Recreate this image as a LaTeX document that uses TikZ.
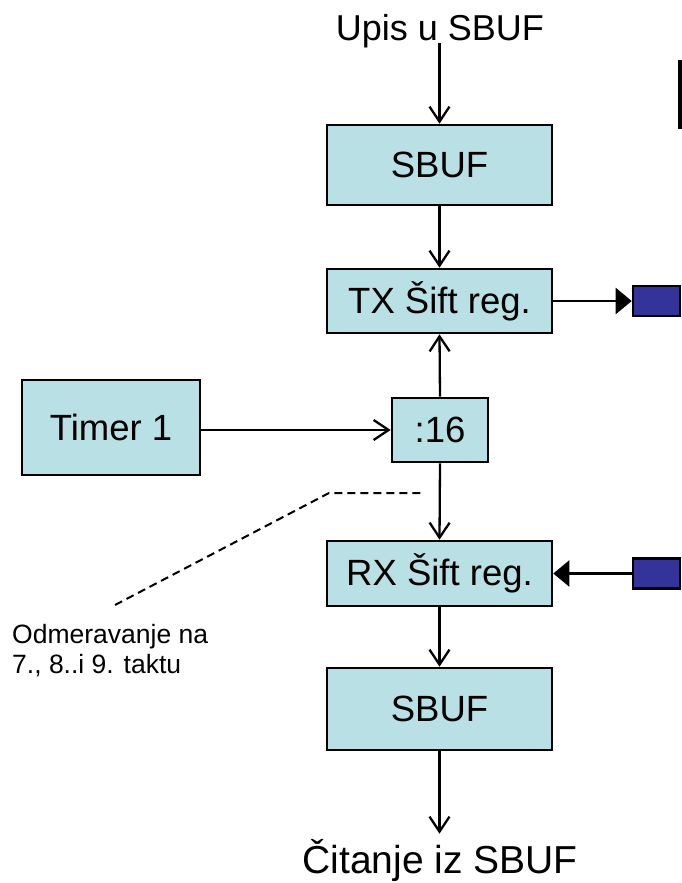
\documentclass[tikz,border=0pt]{standalone}
\usepackage{fontspec}
\setmainfont{Liberation Sans}
\usetikzlibrary{arrows.meta}
\definecolor{boxfill}{RGB}{185,224,228}
\definecolor{portblue}{RGB}{51,51,153}
\begin{document}
\begin{tikzpicture}[x=1pt,y=-1pt,
  block/.style={draw=black,line width=2.6pt,fill=boxfill,inner sep=0pt,
    font=\fontsize{36.5}{40}\selectfont},
  port/.style={draw=black,line width=2.6pt,fill=portblue,inner sep=0pt,
    minimum width=47pt,minimum height=30pt},
  flow/.style={line width=2.3pt,-{Straight Barb[length=15pt,width=20pt,line width=2.3pt]}},
  pin/.style={line width=2.3pt,-{Triangle[length=16pt,width=26pt]}},
  label/.style={inner sep=0pt,font=\fontsize{36}{40}\selectfont}]
\useasboundingbox (0,0) rectangle (682,883);

% data path blocks
\node[block,minimum width=225pt,minimum height=80pt] (sbufin) at (439.5,165) {SBUF};
\node[block,minimum width=225pt,minimum height=64pt] (tx) at (439.5,301) {TX Šift reg.};
\node[block,minimum width=96pt,minimum height=64pt] (div) at (440,430) {:16};
\node[block,minimum width=178pt,minimum height=95pt] (timer) at (111,427.5) {Timer 1};
\node[block,minimum width=225pt,minimum height=65pt] (rx) at (439.5,573.5) {RX Šift reg.};
\node[block,minimum width=225pt,minimum height=82pt] (sbufout) at (439.5,709) {SBUF};

% serial pins
\node[port] (txpin) at (656.5,301) {};
\node[port] (rxpin) at (656.5,573.5) {};

% input / output labels
\node[label,anchor=base] (upis) at (440,41) {Upis u SBUF};
\node[label,anchor=base,font=\fontsize{39}{44}\selectfont] (citanje) at (440,873) {Čitanje iz SBUF};

% connections
\draw[flow] ([yshift=6pt]upis.south -| sbufin.north) -- (sbufin.north);
\draw[flow] (sbufin.south) -- (tx.north);
\draw[flow] (div.north) -- (tx.south);
\draw[flow] (timer.east |- div.west) -- (div.west);
\draw[flow] (div.south) -- (rx.north);
\draw[flow] (rx.south) -- (sbufout.north);
\draw[flow] (sbufout.south) -- ([yshift=5pt]sbufout.south |- citanje.north);
\draw[pin] (tx.east) -- (txpin.west);
\draw[pin] (rxpin.west) -- (rx.east);

% sampling note
\coordinate (notetip) at (115,605);
\coordinate (notebend) at (329,493);
\coordinate (noteend) at (422,493);
\draw[line width=2pt,dash pattern=on 8pt off 5pt] (notetip) -- (notebend) -- (noteend);
\node[anchor=north west,align=left,inner sep=0pt,
  font=\fontsize{26.5}{30}\selectfont] (note) at (12,624)
  {Odmeravanje na\\7., 8..i 9. taktu};

% bar at top right
\fill (678,60) rectangle (682,129);
\end{tikzpicture}
\end{document}
